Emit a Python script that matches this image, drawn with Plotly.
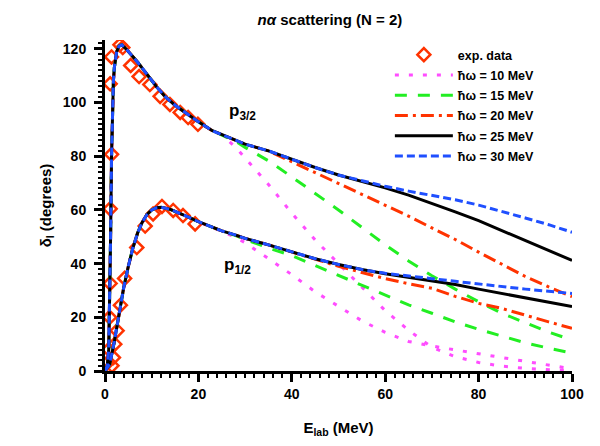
import plotly.graph_objects as go

# ---------------- data ----------------
# experimental phase shifts
E_exp_p32 = [0.5, 0.8, 1.0, 1.1, 1.1, 1.4, 1.1, 1.4, 3.2, 3.8, 5.5, 7.3, 9.6, 11.8, 13.9, 16.1, 17.8, 19.9]
d_exp_p32 = [3, 8, 20, 32.6, 60.4, 80.7, 107, 117, 121.5, 120.5, 113.8, 109.7, 106.7, 102.3, 99.3, 96.3, 94.4, 91.9]
E_exp_p12 = [1.5, 1.8, 2.1, 2.6, 3.3, 4.2, 6.8, 8.6, 10.3, 12.2, 14.6, 16.7, 19.3]
d_exp_p12 = [2, 5, 10, 15, 24.5, 34.5, 46, 54, 58.5, 61.3, 59.8, 57.9, 54.8]

# common low-energy part of the calculated curves
E_up_common = [0, 0.5, 0.8, 1.0, 1.2, 1.4, 1.6, 1.8, 2.0, 2.5, 3.0, 3.6, 4.5, 5.5, 7, 9, 11, 13, 15, 18, 20, 23, 25]
d_up_common = [0, 2, 8, 25, 50, 80, 100, 108, 113, 119, 121, 121.5, 120, 118, 115, 110.5, 106, 102, 99, 95.3, 92.8, 89.5, 88]
E_lo_common = [0, 1, 2, 3, 4, 5, 6, 7, 8, 9, 10, 11, 12, 14, 16, 18, 20, 23, 25]
d_lo_common = [0, 2.5, 11, 21, 31, 39, 46, 51.5, 55.5, 58.3, 60, 60.8, 61, 60.2, 58.8, 57.2, 55.6, 53.5, 52.2]

E_tail = [28, 30, 35, 40, 45, 50, 55, 60, 65, 70, 75, 80, 85, 90, 95, 100]
# p3/2 tails
up_10 = [83.3, 79.3, 69.5, 58.8, 48.8, 40, 31.4, 22.5, 15.2, 8.8, 5.3, 3.2, 1.8, 1.0, 0.5, 0.2]
up_15 = [85.5, 83.3, 78.3, 72.3, 66.3, 60, 53.5, 47, 41, 35.5, 30.5, 25.8, 21.5, 18, 14.5, 11.5]
up_20 = [85.8, 84.5, 82, 78, 74, 69.8, 65.7, 61.7, 57.7, 53.3, 49, 44.3, 39.6, 35.2, 31.3, 27.7]
up_25 = [85.8, 84.5, 82, 78.8, 75.8, 73, 70.7, 68.2, 65.5, 62.5, 59.3, 56, 52.3, 48.7, 45, 41.2]
up_30 = [85.8, 84.5, 82, 78.8, 75.8, 73, 70.8, 68.8, 67, 65.5, 63.8, 61.8, 59.5, 57, 54.5, 51.7]
# p1/2 tails
lo_10 = [49.8, 47.8, 41.9, 35.9, 29.5, 24.2, 18.7, 14.4, 11, 9.3, 7.8, 6.4, 5, 3.6, 2.2, 0.8]
lo_15 = [50.4, 49, 45.8, 43, 39.3, 35.6, 32, 28, 24.6, 21.5, 18.3, 15.5, 12.9, 10.5, 8.5, 6.7]
lo_20 = [50.6, 49.4, 47, 44.3, 41.5, 39, 36.7, 34.4, 32.5, 30.8, 27.8, 25.2, 23.3, 20.7, 18.3, 15.9]
lo_25 = [50.6, 49.4, 47, 44.3, 41.8, 39.7, 37.8, 36.2, 34.8, 33.6, 32.2, 30.5, 28.9, 27.2, 25.6, 24]
lo_30 = [50.6, 49.4, 47, 44.3, 41.8, 39.7, 37.8, 36.4, 35.3, 34.4, 33.4, 32.4, 31.5, 30.5, 29.7, 28.9]

labels = ["ħω = 10 MeV", "ħω = 15 MeV", "ħω = 20 MeV", "ħω = 25 MeV", "ħω = 30 MeV"]
x_ticks = [0, 20, 40, 60, 80, 100]
y_ticks = [0, 20, 40, 60, 80, 100, 120]

# ---------------- style ----------------
FONT = "Liberation Sans, Arial, sans-serif"
styles = [
    dict(color="#ff4dff", dash="4px,10px"),
    dict(color="#22ee22", dash="12px,11px"),
    dict(color="#ff3300", dash="13px,5px,3px,5px"),
    dict(color="#000000", dash="solid"),
    dict(color="#1f4fff", dash="8px,4px"),
]
ups = [up_10, up_15, up_20, up_25, up_30]
los = [lo_10, lo_15, lo_20, lo_25, lo_30]

fig = go.Figure()

fig.add_trace(go.Scatter(
    x=E_exp_p32 + [None] + E_exp_p12, y=d_exp_p32 + [None] + d_exp_p12,
    mode="markers", name="exp. data", legendgroup="exp",
    marker=dict(symbol="diamond-open", size=10, color="#ff3300", line=dict(width=2.5, color="#ff3300")),
))

for i in range(5):
    st = styles[i]
    fig.add_trace(go.Scatter(
        x=E_up_common + E_tail, y=d_up_common + ups[i], mode="lines",
        name=labels[i], legendgroup=f"g{i}",
        line=dict(color=st["color"], dash=st["dash"], width=3),
    ))
    fig.add_trace(go.Scatter(
        x=E_lo_common + E_tail, y=d_lo_common + los[i], mode="lines",
        name=labels[i], legendgroup=f"g{i}", showlegend=False,
        line=dict(color=st["color"], dash=st["dash"], width=3),
    ))

axis_common = dict(
    showline=True, linewidth=3, linecolor="black", mirror=False,
    showgrid=False, zeroline=False,
    ticks="outside", ticklen=8, tickwidth=2.5, tickcolor="black",
    tickfont=dict(family=FONT, size=14, color="black", weight="bold"),
)

fig.update_xaxes(
    range=[0, 100], tickvals=x_ticks,
    minor=dict(dtick=2, ticks="outside", ticklen=4, tickwidth=2, tickcolor="black"),
    title=dict(text="<b>E<sub>lab</sub> (MeV)</b>", font=dict(family=FONT, size=15, color="black"), standoff=22),
    **axis_common,
)
fig.update_yaxes(
    range=[0, 123.3], tickvals=y_ticks, ticklabelstandoff=5,
    minor=dict(dtick=2, ticks="outside", ticklen=4, tickwidth=2, tickcolor="black"),
    title=dict(text="<b>δ<sub>l</sub> (degrees)</b>", font=dict(family=FONT, size=15, color="black"), standoff=8),
    **axis_common,
)

fig.add_annotation(x=29.5, y=96.5, text="<b>p<sub>3/2</sub></b>", showarrow=False,
                   font=dict(family=FONT, size=17, color="black"))
fig.add_annotation(x=28.3, y=39, text="<b>p<sub>1/2</sub></b>", showarrow=False,
                   font=dict(family=FONT, size=17, color="black"))

fig.update_layout(
    width=600, height=446,
    margin=dict(l=105, r=28, t=40, b=73),
    paper_bgcolor="white", plot_bgcolor="white",
    title=dict(text="<b><i>nα</i> scattering (N = 2)</b>", x=0.55, xanchor="center", y=0.955, yanchor="middle",
               font=dict(family=FONT, size=15, color="black")),
    legend=dict(x=0.61, y=1.0, xanchor="left", yanchor="top", bgcolor="rgba(0,0,0,0)",
                font=dict(family=FONT, size=12.5, color="black", weight="bold"),
                tracegroupgap=1, traceorder="grouped", itemwidth=58),
    showlegend=True,
)

fig.write_html("out.html")
